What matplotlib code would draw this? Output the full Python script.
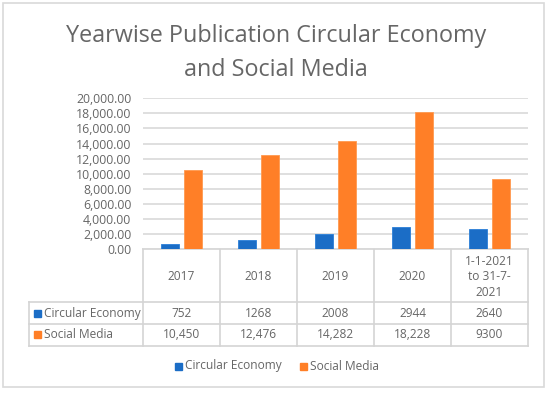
import numpy as np
import matplotlib.pyplot as plt
from matplotlib.patches import Rectangle

plt.rcParams['font.family'] = ['Open Sans', 'DejaVu Sans']

categories = ["2017", "2018", "2019", "2020", "1-1-2021\nto 31-7-\n2021"]
series_names = ["Circular Economy", "Social Media"]
circular_economy = [752, 1268, 2008, 2944, 2640]
social_media = [10450, 12476, 14282, 18228, 9300]
ce_labels = ["752", "1268", "2008", "2944", "2640"]
sm_labels = ["10,450", "12,476", "14,282", "18,228", "9300"]
yticks = np.arange(0, 20001, 2000)
title_lines = ["Yearwise Publication Circular Economy", "and Social Media"]

BLUE = "#1B6DC6"
ORANGE = "#FF7F27"
TEXT = "#666666"
GRID = "#D9D9D9"
FS = 8.6

W, H = 550, 393
fig = plt.figure(figsize=(5.5, 3.93), dpi=100)

# overlay in pixel coordinates for border, table and legend
ov = fig.add_axes([0, 0, 1, 1])
ov.set_xlim(0, W)
ov.set_ylim(H, 0)
ov.axis("off")

# bar area
left, right, top, bottom = 143, 528, 98.3, 249.3
ax = fig.add_axes([left / W, 1 - bottom / H, (right - left) / W, (bottom - top) / H])
n = len(categories)
x = np.arange(n)
bw = 0.235
gap = 0.055
ax.bar(x - (bw + gap) / 2, circular_economy, bw, color=BLUE, edgecolor="#2a7fd8", lw=0.6, zorder=3)
ax.bar(x + (bw + gap) / 2, social_media, bw, color=ORANGE, edgecolor="#ff9a50", lw=0.6, zorder=3)
ax.set_xlim(-0.5, n - 0.5)
ax.set_ylim(0, 20000)
ax.set_yticks(yticks)
ax.set_yticklabels([f"{v:,.2f}" for v in yticks], color=TEXT, fontsize=FS + 0.2)
ax.set_xticks([])
ax.tick_params(axis="y", length=0, pad=8.5)
ax.grid(axis="y", color=GRID, lw=1.2, zorder=0)
for s in ax.spines.values():
    s.set_visible(False)
ax.patch.set_alpha(0)

# outer border
ov.add_patch(Rectangle((3, 3), 541, 384, fill=False, ec=GRID, lw=1.2))

# title
for line, by in zip(title_lines, [42, 76]):
    ov.text(W / 2 + 1, by, line, ha="center", va="baseline", fontsize=16.8, color=TEXT)

# data table
col_w = (right - left) / n
row_y = [249.3, 302.3, 324, 345.7]
tleft = 29
lc = "#D4D4D4"
ov.plot([left, right], [row_y[0], row_y[0]], color=lc, lw=1.2)
for yy in row_y[1:]:
    ov.plot([tleft, right], [yy, yy], color=lc, lw=1.2)
for i in range(n + 1):
    xx = left + i * col_w
    ov.plot([xx, xx], [row_y[0], row_y[3]], color=lc, lw=1.2)
ov.plot([tleft, tleft], [row_y[1], row_y[3]], color=lc, lw=1.2)

for i, cat in enumerate(categories):
    cx = left + (i + 0.5) * col_w
    ov.text(cx, (row_y[0] + row_y[1]) / 2 + 1, cat, ha="center", va="center",
            fontsize=FS, color=TEXT, linespacing=1.25)
    ov.text(cx, (row_y[1] + row_y[2]) / 2, ce_labels[i], ha="center", va="center",
            fontsize=FS, color=TEXT)
    ov.text(cx, (row_y[2] + row_y[3]) / 2, sm_labels[i], ha="center", va="center",
            fontsize=FS, color=TEXT)

for j, (name, col) in enumerate(zip(series_names, [BLUE, ORANGE])):
    cy = (row_y[1 + j] + row_y[2 + j]) / 2
    ov.add_patch(Rectangle((34, cy - 3.5), 7, 7, color=col))
    ov.text(44, cy, name, ha="left", va="center", fontsize=FS, color=TEXT)

# legend
leg_y = 366
leg_x = [175, 300]
for name, col, lx in zip(series_names, [BLUE, ORANGE], leg_x):
    ov.add_patch(Rectangle((lx, leg_y - 3.5), 7, 7, color=col))
    ov.text(lx + 10, leg_y, name, ha="left", va="center", fontsize=FS, color=TEXT)

fig.savefig("out.png", dpi=100)
